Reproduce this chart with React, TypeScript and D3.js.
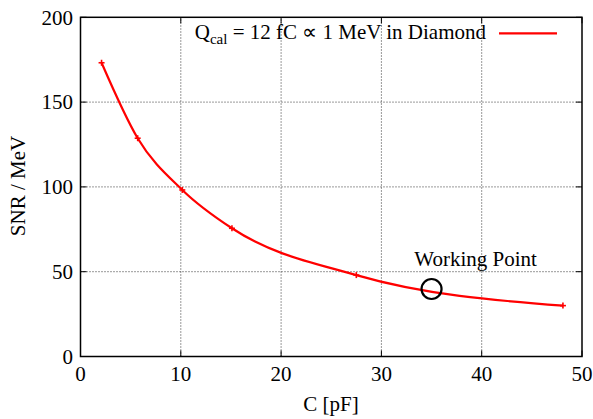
import React from "react";
import * as d3 from "d3";

const capacitance = [2.1, 5.7, 10.15, 15.1, 27.5, 48.1];
const snr = [173.2, 128.7, 98.2, 75.6, 48.0, 30.0];
const workingC = [35];
const workingSNR = [39.8];
const xTicks = [0, 10, 20, 30, 40, 50];
const yTicks = [0, 50, 100, 150, 200];

const W = 593;
const H = 419;
const margin = { left: 80.5, right: 582, top: 17.3, bottom: 356.5 };
const FONT = "'Liberation Serif', 'Times New Roman', serif";
const FS = 21;

export default function App() {
  const x = d3.scaleLinear().domain([0, 50]).range([margin.left, margin.right]);
  const y = d3.scaleLinear().domain([0, 200]).range([margin.bottom, margin.top]);
  const pts: [number, number][] = capacitance.map((c, i) => [c, snr[i]]);
  const line = d3
    .line<[number, number]>()
    .x((d) => x(d[0]))
    .y((d) => y(d[1]))
    .curve(d3.curveMonotoneX);
  const tickLen = 6;
  return (
    <svg
      width={W}
      height={H}
      style={{ position: "absolute", left: 0, top: 0, background: "#fff" }}
      fontFamily={FONT}
    >
      <rect x={0} y={0} width={W} height={H} fill="#fff" />
      {/* grid */}
      {xTicks.slice(1, -1).map((t) => (
        <line key={"gx" + t} x1={x(t)} x2={x(t)} y1={y(0)} y2={y(200)} stroke="#333" strokeWidth={1} strokeDasharray="1,2" />
      ))}
      {yTicks.slice(1, -1).map((t) => (
        <line key={"gy" + t} x1={x(0)} x2={x(50)} y1={y(t)} y2={y(t)} stroke="#333" strokeWidth={1} strokeDasharray="1,2" />
      ))}
      {/* ticks */}
      {xTicks.map((t) => (
        <g key={"tx" + t}>
          <line x1={x(t)} x2={x(t)} y1={y(0)} y2={y(0) - tickLen} stroke="#000" strokeWidth={1} />
          <line x1={x(t)} x2={x(t)} y1={y(200)} y2={y(200) + tickLen} stroke="#000" strokeWidth={1} />
          <text x={x(t)} y={381} textAnchor="middle" fontSize={FS} fill="#000">
            {t}
          </text>
        </g>
      ))}
      {yTicks.map((t) => (
        <g key={"ty" + t}>
          <line x1={x(0)} x2={x(0) + tickLen} y1={y(t)} y2={y(t)} stroke="#000" strokeWidth={1} />
          <line x1={x(50)} x2={x(50) - tickLen} y1={y(t)} y2={y(t)} stroke="#000" strokeWidth={1} />
          <text x={73} y={y(t)} dy="0.35em" textAnchor="end" fontSize={FS} fill="#000">
            {t}
          </text>
        </g>
      ))}
      {/* frame */}
      <rect
        x={x(0)}
        y={y(200)}
        width={x(50) - x(0)}
        height={y(0) - y(200)}
        fill="none"
        stroke="#000"
        strokeWidth={1.5}
      />
      {/* curve */}
      <path d={line(pts) || ""} fill="none" stroke="#f00" strokeWidth={2.2} />
      {pts.map((p, i) => (
        <g key={"m" + i} stroke="#f00" strokeWidth={1.6}>
          <line x1={x(p[0]) - 3} x2={x(p[0]) + 3} y1={y(p[1])} y2={y(p[1])} />
          <line x1={x(p[0])} x2={x(p[0])} y1={y(p[1]) - 3} y2={y(p[1]) + 3} />
        </g>
      ))}
      {/* working point */}
      {workingC.map((c, i) => (
        <g key={"wp" + i}>
          <circle cx={x(c)} cy={y(workingSNR[i])} r={10} fill="none" stroke="#000" strokeWidth={2.2} />
          <text x={x(c) + 44} y={266} textAnchor="middle" fontSize={FS} fill="#000">
            Working Point
          </text>
        </g>
      ))}
      {/* legend */}
      <text x={486} y={39} textAnchor="end" fontSize={FS} fill="#000">
        Q<tspan fontSize={15} dy={5}>cal</tspan>
        <tspan dy={-5}> = 12 fC ∝ 1 MeV in Diamond</tspan>
      </text>
      <line x1={499} x2={557} y1={33.3} y2={33.3} stroke="#f00" strokeWidth={2.2} />
      {/* axis labels */}
      <text x={331} y={411} textAnchor="middle" fontSize={FS} fill="#000">
        C [pF]
      </text>
      <text transform="translate(25,186) rotate(-90)" textAnchor="middle" fontSize={FS} fill="#000">
        SNR / MeV
      </text>
    </svg>
  );
}
